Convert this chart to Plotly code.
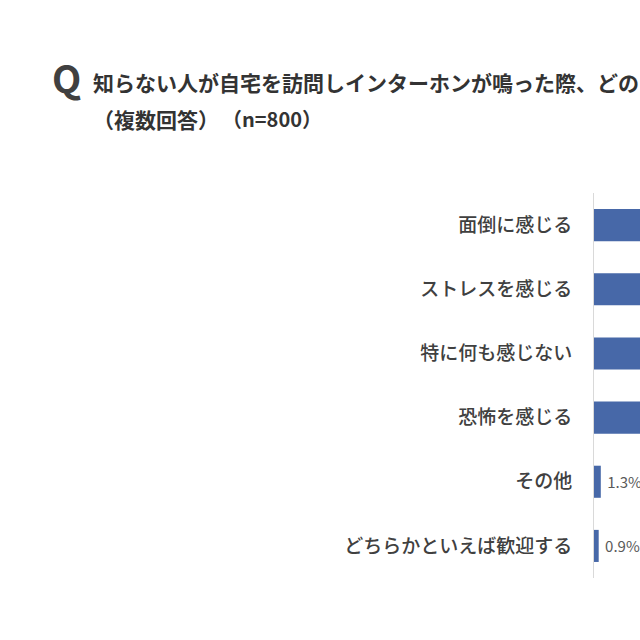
import plotly.graph_objects as go

categories = ["面倒に感じる", "ストレスを感じる", "特に何も感じない", "恐怖を感じる", "その他", "どちらかといえば歓迎する"]
values = [46.5, 28.4, 26.1, 20.0, 1.3, 0.9]
title_q = "Q"
title_line1 = "知らない人が自宅を訪問しインターホンが鳴った際、どのように感じますか？"
title_line2a = "（複数回答）"
title_line2b = "（n=800）"

W, H = 640, 640
L, R, T, B = 594, 0, 193, 62
PW, PH = W - L - R, H - T - B

def px_x(px):
    return (px - L) / PW

def px_y(py):
    return (H - B - py) / PH

FONT = "Noto Sans CJK JP"

fig = go.Figure(go.Bar(
    y=categories,
    x=values,
    orientation="h",
    marker=dict(color="#4768a8", line=dict(width=0)),
    width=0.5,
    text=[f" {v}%" for v in values],
    textposition="outside",
    textfont=dict(family=FONT, size=15, color="#595959"),
    cliponaxis=True,
))

fig.update_layout(
    width=W, height=H,
    margin=dict(l=L, r=R, t=T, b=B, autoexpand=False),
    paper_bgcolor="white",
    plot_bgcolor="white",
    showlegend=False,
    font=dict(family=FONT, color="#404040"),
    xaxis=dict(range=[0, 8.8], visible=False, showgrid=False, zeroline=False),
    yaxis=dict(
        autorange="reversed",
        showline=True, linecolor="#d9d9d9", linewidth=1,
        showgrid=False, zeroline=False, ticks="",
        tickfont=dict(family=FONT, size=19, color="#404040", weight=500),
        ticklabelstandoff=17,
    ),
    annotations=[
        dict(text=f"<b>{title_q}</b>", x=px_x(50), y=px_y(76), xref="paper", yref="paper",
             xanchor="left", yanchor="middle", showarrow=False,
             font=dict(family=FONT, size=38, color="#404040")),
        dict(text=f"<b>{title_line1}</b>", x=px_x(91), y=px_y(82), xref="paper", yref="paper",
             xanchor="left", yanchor="middle", showarrow=False,
             font=dict(family=FONT, size=21, color="#333333")),
        dict(text=f"<b>{title_line2a}</b>", x=px_x(91), y=px_y(119), xref="paper", yref="paper",
             xanchor="left", yanchor="middle", showarrow=False,
             font=dict(family=FONT, size=21, color="#333333")),
        dict(text=f"<b>{title_line2b}</b>", x=px_x(324), y=px_y(119), xref="paper", yref="paper",
             xanchor="right", yanchor="middle", showarrow=False,
             font=dict(family=FONT, size=20, color="#333333")),
    ],
)

fig.write_html("out.html")
